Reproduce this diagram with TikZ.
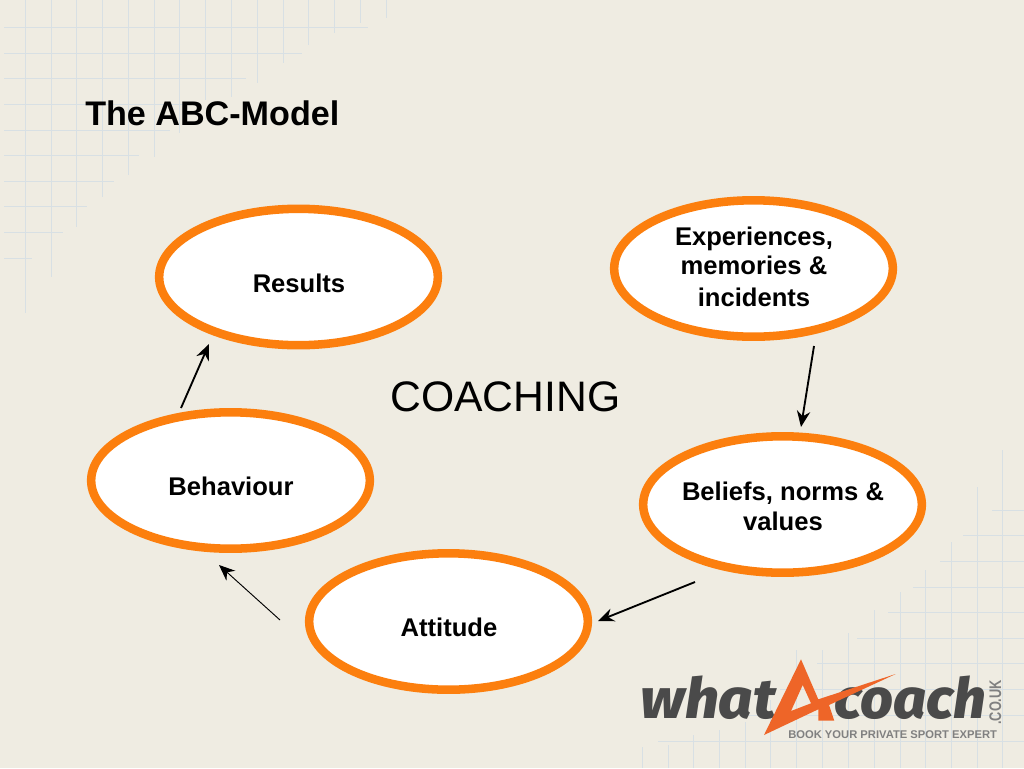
\documentclass[tikz,border=0pt]{standalone}
\usepackage{fontspec}
\setmainfont{Liberation Sans}
\newfontfamily\logofont{Fira Sans}[UprightFont=* ExtraBold Italic]
\usetikzlibrary{arrows.meta,shapes.geometric}
\definecolor{bgc}{HTML}{EFECE2}
\definecolor{gridc}{HTML}{D8E0E4}
\definecolor{ringc}{HTML}{FC7F0E}
\definecolor{logoA}{HTML}{EE6528}
\definecolor{logoG}{HTML}{4A4A4A}
\definecolor{logoT}{HTML}{808080}
\tikzset{
  x=0.75pt,y=-0.75pt,
  gridline/.style={draw=gridc,line width=0.7pt},
  ring/.style={draw=ringc,line width=6.4pt,fill=white,ellipse,minimum width=209pt,minimum height=102.3pt,inner sep=0pt},
  ringtext/.style={inner sep=0pt,align=center,font=\bfseries\fontsize{19.2}{22}\selectfont},
  conn/.style={draw=black,line width=1.4pt,-{Stealth[length=12pt,width=10pt]}},
  connthin/.style={draw=black,line width=0.7pt,-{Stealth[length=12pt,width=10pt]}},
  logoword/.style={anchor=base west,inner sep=0pt,text depth=0pt,text=logoG,font=\logofont\fontsize{42}{42}\selectfont},
}
\begin{document}
\begin{tikzpicture}
\useasboundingbox (0,0) rectangle (1024,768);
\fill[bgc] (0,0) rectangle (1024,768);
% grid, top left
\foreach \px/\py in {25/313,51/277,76/227,102/197,128/175,154/157,179/133,205/100,231/97,257/83,283/63,308/45,334/33,360/23,386/18}
  \draw[gridline] (\px,0) -- (\px,\py);
\foreach \py/\px in {27/368,53/302,78/246,104/200,130/170,155/139,181/114,206/87,232/63,258/32}
  \draw[gridline] (4,\py) -- (\px,\py);
% grid, bottom right
\foreach \px/\py in {642/747,668/745,693/735,719/730,745/722,770/700,796/650,822/650,848/633,874/610,900/592,925/570,951/542,977/487,1002/450}
  \draw[gridline] (\px,768) -- (\px,\py);
\foreach \py/\px in {510/992,535/963,561/940,587/913,612/888,638/857,663/817,689/780,715/740,741/658}
  \draw[gridline] (\px,\py) -- (1024,\py);
% title and centre
\node[anchor=west,inner sep=0pt,font=\bfseries\fontsize{25.6}{30}\selectfont] (title) at (85,113) {The ABC-Model};
\node[inner sep=0pt,font=\fontsize{32}{38}\selectfont] (centre) at (505.5,397) {COACHING};
% ellipses
\node[ring] (results) at (298.5,277) {};
\node[ring] (exper) at (753.5,268.5) {};
\node[ring] (beliefs) at (782.5,504.5) {};
\node[ring] (attitude) at (448.5,621.5) {};
\node[ring] (behav) at (230.5,480.5) {};
\node[ringtext] (resultst) at (299,283) {Results};
\node[ringtext] (expert) at (754,267) {Experiences,\\memories \&\\[1.8pt]incidents};
\node[ringtext] (beliefst) at (783,506) {Beliefs, norms \&\\[0.5pt]values};
\node[ringtext] (attitudet) at (449,627) {Attitude};
\node[ringtext] (behavt) at (231,486) {Behaviour};
% connector ends
\coordinate (e1) at (814,346); \coordinate (b1) at (801,427);
\coordinate (e2) at (695,582); \coordinate (a2) at (598,621);
\coordinate (e3) at (280,620); \coordinate (b3) at (219,565);
\coordinate (e4) at (181,408); \coordinate (r4) at (209,344);
\draw[conn] (e1) -- (b1);
\draw[conn] (e2) -- (a2);
\draw[connthin] (e3) -- (b3);
\draw[conn] (e4) -- (r4);
% logo
\node[logoword] (lw) at (640,718) {\scalebox{1.07}[1]{what}};
\node[logoword] (lc) at (834,718) {\scalebox{1.03}[1]{coach}};
\fill[logoA,even odd rule] (801,659.3) -- (764,735) -- (818.3,709.3) -- (818.3,720.7) -- (834.3,720.7) -- (829,705) -- (895.7,674) -- (818.3,699.3) -- cycle
  (802.7,685) -- (791,711) -- (811,703.3) -- cycle;
\node[anchor=base west,inner sep=0pt,text=logoT,font=\bfseries\fontsize{8.4}{10}\selectfont] (tag) at (788,738) {BOOK YOUR PRIVATE SPORT EXPERT};
\node[anchor=base west,inner sep=0pt,rotate=90,text=logoT,font=\bfseries\fontsize{12.6}{12.6}\selectfont] (uk) at (1001,725) {\scalebox{0.76}[1]{.CO.UK}};
\end{tikzpicture}
\end{document}
